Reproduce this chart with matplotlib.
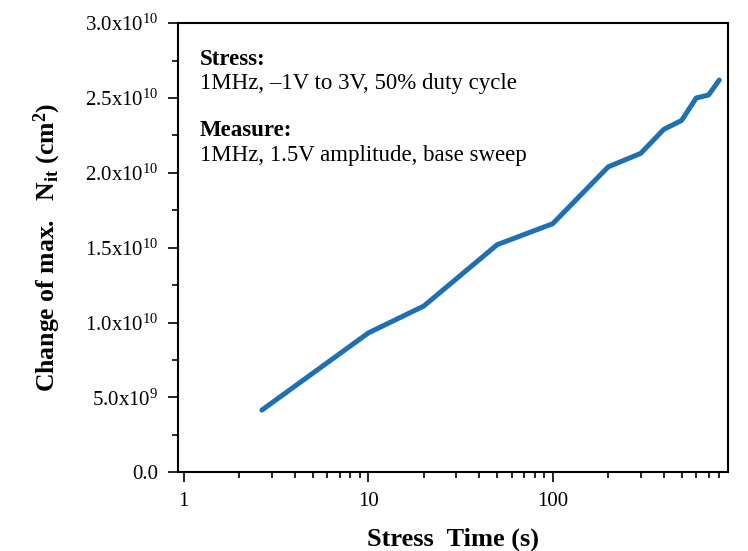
import matplotlib
matplotlib.use("Agg")
import matplotlib.pyplot as plt
from matplotlib.ticker import FixedLocator, MultipleLocator, FuncFormatter, NullFormatter

plt.rcParams["font.family"] = ["Liberation Serif", "DejaVu Serif"]
plt.rcParams["mathtext.fontset"] = "custom"
plt.rcParams["mathtext.rm"] = "Liberation Serif"
plt.rcParams["mathtext.bf"] = "Liberation Serif:bold"
plt.rcParams["mathtext.it"] = "Liberation Serif:italic"

# Data
stress_time = [2.65, 10, 20, 50, 100, 200, 300, 400, 500, 600, 700, 800]
delta_nit = [4.15e9, 9.3e9, 1.11e10, 1.52e10, 1.66e10, 2.04e10, 2.13e10,
             2.29e10, 2.35e10, 2.50e10, 2.52e10, 2.62e10]

y_ticks = [0, 5e9, 1e10, 1.5e10, 2e10, 2.5e10, 3e10]
y_tick_labels = ["0.0", "5.0x10$^{9}$", "1.0x10$^{10}$", "1.5x10$^{10}$",
                 "2.0x10$^{10}$", "2.5x10$^{10}$", "3.0x10$^{10}$"]


def main():
    fig = plt.figure(figsize=(7.48, 5.51), dpi=100)
    ax = fig.add_axes([0.238, 0.143, 0.735, 0.815])

    ax.plot(stress_time, delta_nit, color="#1f70b2", linewidth=3.6,
            solid_capstyle="round", solid_joinstyle="round")

    ax.set_xscale("log")
    ax.set_xlim(0.93, 890)
    ax.set_ylim(0, 3e10)

    ax.xaxis.set_major_locator(FixedLocator([1, 10, 100]))
    ax.xaxis.set_major_formatter(FuncFormatter(lambda v, p: f"{int(round(v))}"))
    ax.xaxis.set_minor_locator(FixedLocator(
        [m * d for d in (1, 10, 100) for m in range(2, 10) if m * d < 890]))
    ax.xaxis.set_minor_formatter(NullFormatter())

    ax.yaxis.set_major_locator(FixedLocator(y_ticks))
    ax.set_yticklabels(y_tick_labels)
    ax.yaxis.set_minor_locator(MultipleLocator(2.5e9))

    ax.tick_params(which="both", direction="out", top=False, right=False,
                   labelsize=15, width=1.2)
    ax.tick_params(which="major", length=7, pad=7)
    ax.tick_params(which="minor", length=4)
    for s in ax.spines.values():
        s.set_linewidth(1.5)

    ax.set_xlabel("Stress  Time (s)", fontsize=19, fontweight="bold", labelpad=12)
    ax.set_ylabel(r"Change of max.   N$_{\mathbf{it}}$ (cm$^{\mathbf{2}}$)",
                  fontsize=18.5, fontweight="bold", labelpad=16)

    ax.text(0.04, 0.918, "Stress:", transform=ax.transAxes, fontsize=16.5,
            fontweight="bold", va="center")
    ax.text(0.04, 0.865, "1MHz, \u20131V to 3V, 50% duty cycle",
            transform=ax.transAxes, fontsize=16.5, va="center")
    ax.text(0.04, 0.76, "Measure:", transform=ax.transAxes, fontsize=16.5,
            fontweight="bold", va="center")
    ax.text(0.04, 0.705, "1MHz, 1.5V amplitude, base sweep",
            transform=ax.transAxes, fontsize=16.5, va="center")

    fig.savefig("out.png", dpi=100)


if __name__ == "__main__":
    main()
